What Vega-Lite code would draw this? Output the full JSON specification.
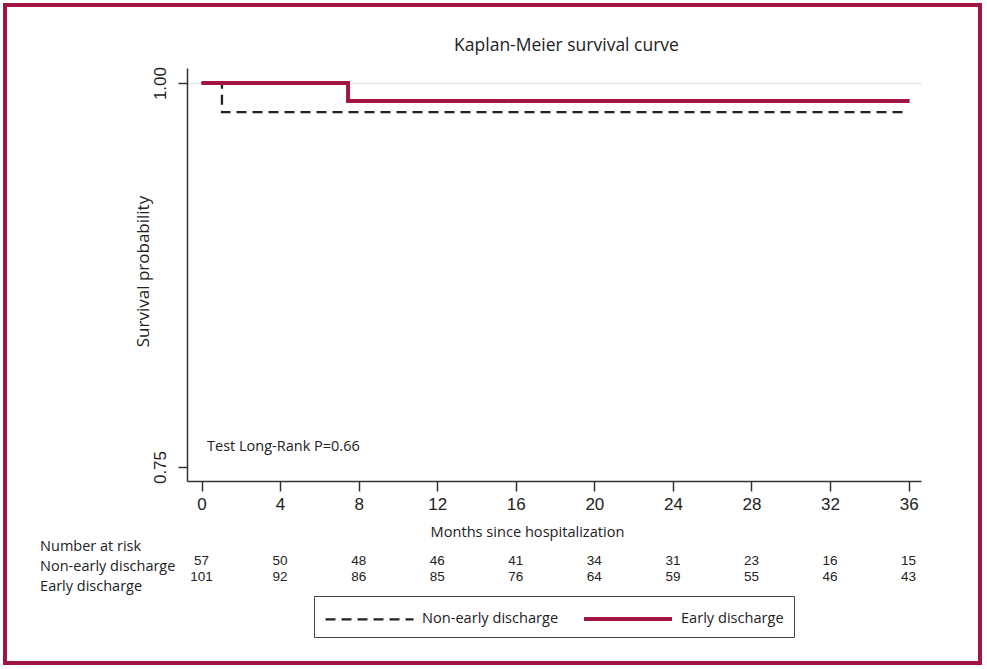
{
  "$schema": "https://vega.github.io/schema/vega-lite/v6.json",
  "width": 975,
  "height": 658,
  "autosize": {"type": "none"},
  "padding": {"left": 5, "top": 5, "right": 7, "bottom": 6},
  "background": "white",
  "config": {
    "view": {"stroke": "#A11641", "strokeWidth": 4},
    "font": "Open Sans"
  },
  "title": {
    "text": "Kaplan-Meier survival curve",
    "font": "Open Sans",
    "fontSize": 17.5,
    "fontWeight": "normal",
    "color": "#222222",
    "anchor": "middle",
    "frame": "group",
    "dx": 74,
    "offset": -58,
    "baseline": "middle"
  },
  "datasets": {
    "curves": [
      {"group": "Non-early discharge", "month": 0, "survival": 1},
      {"group": "Non-early discharge", "month": 1.04, "survival": 0.9811},
      {"group": "Non-early discharge", "month": 36, "survival": 0.9811},
      {"group": "Early discharge", "month": 0, "survival": 1},
      {"group": "Early discharge", "month": 7.46, "survival": 0.9883},
      {"group": "Early discharge", "month": 36.05, "survival": 0.9883}
    ],
    "risk": [
      {"group": "Non-early discharge", "month": 0, "n": 57},
      {"group": "Non-early discharge", "month": 4, "n": 50},
      {"group": "Non-early discharge", "month": 8, "n": 48},
      {"group": "Non-early discharge", "month": 12, "n": 46},
      {"group": "Non-early discharge", "month": 16, "n": 41},
      {"group": "Non-early discharge", "month": 20, "n": 34},
      {"group": "Non-early discharge", "month": 24, "n": 31},
      {"group": "Non-early discharge", "month": 28, "n": 23},
      {"group": "Non-early discharge", "month": 32, "n": 16},
      {"group": "Non-early discharge", "month": 36, "n": 15},
      {"group": "Early discharge", "month": 0, "n": 101},
      {"group": "Early discharge", "month": 4, "n": 92},
      {"group": "Early discharge", "month": 8, "n": 86},
      {"group": "Early discharge", "month": 12, "n": 85},
      {"group": "Early discharge", "month": 16, "n": 76},
      {"group": "Early discharge", "month": 20, "n": 64},
      {"group": "Early discharge", "month": 24, "n": 59},
      {"group": "Early discharge", "month": 28, "n": 55},
      {"group": "Early discharge", "month": 32, "n": 46},
      {"group": "Early discharge", "month": 36, "n": 43}
    ]
  },
  "layer": [
    {
      "layer": [
        {
          "data": {"name": "curves"},
          "transform": [{"filter": "datum.group == 'Non-early discharge'"}],
          "mark": {"type": "line", "interpolate": "step-after"},
          "encoding": {
            "x": {
              "field": "month",
              "type": "quantitative",
              "scale": {"domain": [-0.74, 36.63], "range": [182, 916], "nice": false, "zero": false},
              "axis": {
                "values": [0, 4, 8, 12, 16, 20, 24, 28, 32, 36],
                "offset": -182,
                "grid": false,
                "domainColor": "#333333",
                "domainWidth": 1.5,
                "tickColor": "#333333",
                "tickWidth": 1.5,
                "tickSize": 10,
                "labelPadding": 5,
                "labelFont": "Liberation Sans",
                "labelFontSize": 17,
                "labelColor": "#222222",
                "title": "Months since hospitalization",
                "titleFont": "Open Sans",
                "titleFontSize": 14.6,
                "titleFontWeight": "normal",
                "titleColor": "#222222",
                "titleX": 522,
                "titleY": 51,
                "titleAlign": "center",
                "titleBaseline": "middle"
              }
            },
            "y": {
              "field": "survival",
              "type": "quantitative",
              "scale": {"domain": [0.7409, 1.0098], "range": [476, 63], "nice": false, "zero": false},
              "axis": {
                "values": [0.75, 1],
                "format": ".2f",
                "offset": -182,
                "grid": true,
                "gridColor": "#e8e8e8",
                "gridWidth": 1.5,
                "gridOpacity": {"condition": {"test": "datum.value == 1", "value": 1}, "value": 0},
                "domainColor": "#333333",
                "domainWidth": 1.5,
                "tickColor": "#333333",
                "tickWidth": 1.5,
                "tickSize": 9,
                "labelAngle": -90,
                "labelAlign": "center",
                "labelBaseline": "alphabetic",
                "labelPadding": 13,
                "labelFont": "Liberation Sans",
                "labelFontSize": 17,
                "labelColor": "#222222",
                "title": "Survival probability",
                "titleFont": "Open Sans",
                "titleFontSize": 17,
                "titleFontWeight": "normal",
                "titleColor": "#222222",
                "titleX": -44,
                "titleY": 266,
                "titleAngle": -90,
                "titleAlign": "center",
                "titleBaseline": "middle"
              }
            },
            "color": {
              "field": "group",
              "type": "nominal",
              "scale": {"domain": ["Non-early discharge", "Early discharge"], "range": ["#222222", "#A11641"]},
              "legend": {
                "orient": "none",
                "legendX": 309,
                "legendY": 591,
                "direction": "horizontal",
                "title": null,
                "strokeColor": "#444444",
                "padding": 10,
                "symbolType": "M-4,0H4",
                "symbolSize": 484,
                "symbolOffset": 33,
                "labelOffset": 40,
                "columnPadding": 17,
                "labelFont": "Open Sans",
                "labelFontSize": 14.6,
                "labelColor": "#222222"
              }
            },
            "strokeDash": {
              "field": "group",
              "type": "nominal",
              "scale": {"domain": ["Non-early discharge", "Early discharge"], "range": [[10, 6], [1, 0]]}
            },
            "strokeWidth": {
              "field": "group",
              "type": "nominal",
              "scale": {"domain": ["Non-early discharge", "Early discharge"], "range": [2.3, 4]}
            }
          }
        },
        {
          "data": {"name": "curves"},
          "transform": [{"filter": "datum.group == 'Early discharge'"}],
          "mark": {"type": "line", "interpolate": "step-after"},
          "encoding": {
            "x": {"field": "month", "type": "quantitative"},
            "y": {"field": "survival", "type": "quantitative"},
            "color": {"field": "group", "type": "nominal"},
            "strokeDash": {"field": "group", "type": "nominal"},
            "strokeWidth": {"field": "group", "type": "nominal"}
          }
        },
        {
          "data": {"values": [{"note": "Test Long-Rank P=0.66"}]},
          "mark": {"type": "text", "align": "left", "baseline": "middle", "font": "Open Sans", "fontSize": 14.5, "color": "#222222"},
          "encoding": {
            "x": {"datum": 0.28},
            "y": {"datum": 0.763},
            "text": {"field": "note"}
          }
        }
      ]
    },
    {
      "data": {"values": [{"label": "Number at risk"}, {"label": "Non-early discharge"}, {"label": "Early discharge"}]},
      "mark": {"type": "text", "align": "left", "baseline": "middle", "font": "Open Sans", "fontSize": 14.5, "color": "#222222"},
      "encoding": {
        "x": {"datum": -8.22},
        "y": {
          "field": "label",
          "type": "nominal",
          "scale": {"type": "point", "domain": ["Number at risk", "Non-early discharge", "Early discharge"], "range": [542, 582], "padding": 0},
          "axis": null
        },
        "text": {"field": "label"}
      }
    },
    {
      "data": {"name": "risk"},
      "mark": {"type": "text", "align": "center", "baseline": "middle", "font": "Liberation Sans", "fontSize": 13.5, "color": "#222222"},
      "encoding": {
        "x": {"field": "month", "type": "quantitative"},
        "y": {
          "field": "group",
          "type": "nominal",
          "scale": {"type": "point", "domain": ["Non-early discharge", "Early discharge"], "range": [556, 572], "padding": 0},
          "axis": null
        },
        "text": {"field": "n", "type": "quantitative"}
      }
    }
  ],
  "resolve": {"scale": {"y": "independent"}}
}
